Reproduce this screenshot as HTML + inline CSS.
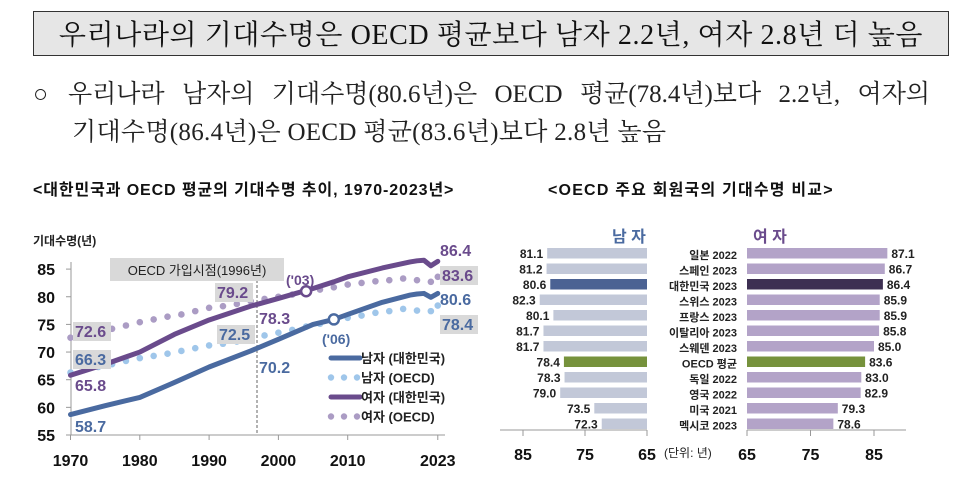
<!DOCTYPE html>
<html><head><meta charset="utf-8">
<style>
body{margin:0;width:954px;height:495px;background:#fff;overflow:hidden;font-family:"Liberation Sans","Noto Sans CJK KR",sans-serif;}
.serif{font-family:"Liberation Serif","Noto Serif CJK SC","Noto Sans CJK KR",serif;}
</style></head><body>
<div style="position:absolute;left:33px;top:11px;width:916px;height:45px;background:#e6e6e6;border:1px solid #333;box-sizing:border-box;"></div>
<div class="serif" style="position:absolute;left:33px;top:13px;width:916px;text-align:center;font-size:28px;color:#111;letter-spacing:0.6px;">우리나라의 기대수명은 OECD 평균보다 남자 2.2년, 여자 2.8년 더 높음</div>
<div class="serif" style="position:absolute;left:33px;top:74px;width:897px;font-size:25px;color:#222;text-align:justify;text-align-last:justify;white-space:nowrap;">○&nbsp; 우리나라&nbsp; 남자의&nbsp; 기대수명(80.6년)은&nbsp; OECD&nbsp; 평균(78.4년)보다&nbsp; 2.2년,&nbsp; 여자의</div>
<div class="serif" style="position:absolute;left:72px;top:112px;font-size:25px;color:#222;letter-spacing:0.3px;">기대수명(86.4년)은 OECD 평균(83.6년)보다 2.8년 높음</div>
<div style="position:absolute;left:33px;top:176px;font-size:16px;font-weight:bold;color:#111;letter-spacing:0.9px;">&lt;대한민국과 OECD 평균의 기대수명 추이, 1970-2023년&gt;</div>
<div style="position:absolute;left:548px;top:176px;font-size:16px;font-weight:bold;color:#111;letter-spacing:1.2px;">&lt;OECD 주요 회원국의 기대수명 비교&gt;</div>

<svg id="svg" width="954" height="495" style="position:absolute;left:0;top:0" font-family="Liberation Sans, Noto Sans CJK KR, sans-serif"></svg>
<script>
const years=[1970,1975,1980,1985,1990,1996,2000,2005,2008,2010,2015,2019,2020,2021,2022,2023];
const korMale=[58.7,60.3,61.8,64.5,67.3,70.2,72.3,75.0,75.9,76.8,79.0,80.3,80.5,80.6,79.9,80.6];
const korFemale=[65.8,67.8,70.0,73.2,75.8,78.3,79.7,81.5,82.7,83.6,85.2,86.3,86.5,86.6,85.6,86.4];
const oecdYears=[1970,1972,1974,1976,1978,1980,1982,1984,1986,1988,1990,1992,1994,1996,1998,2000,2002,2004,2006,2008,2010,2012,2014,2016,2018,2020,2022,2023];
const oecdMale=[66.3,66.8,67.3,67.8,68.4,68.9,69.3,69.7,70.2,70.7,71.2,71.5,71.9,72.5,73.0,73.5,74.0,74.6,75.1,75.6,76.2,76.6,77.1,77.4,77.8,77.5,77.4,78.4];
const oecdFemale=[72.6,73.1,73.6,74.2,74.8,75.4,75.9,76.4,76.8,77.4,78.0,78.3,78.7,79.2,79.6,80.0,80.4,80.9,81.3,81.7,82.2,82.5,82.8,83.0,83.3,83.0,82.7,83.6];
const yTicks=[55,60,65,70,75,80,85];
const xTicks=[1970,1980,1990,2000,2010,2023];
const maleVals=[81.1,81.2,80.6,82.3,80.1,81.7,81.7,78.4,78.3,79.0,73.5,72.3];
const femaleVals=[87.1,86.7,86.4,85.9,85.9,85.8,85.0,83.6,83.0,82.9,79.3,78.6];
const countries=["일본 2022","스페인 2023","대한민국 2023","스위스 2023","프랑스 2023","이탈리아 2023","스웨덴 2023","OECD 평균","독일 2022","영국 2022","미국 2021","멕시코 2023"];
const barTicks=[65,75,85];

const svg=document.getElementById('svg');
const NS='http://www.w3.org/2000/svg';
function mk(tag,attrs,parent){const e=document.createElementNS(NS,tag);for(const k in attrs)e.setAttribute(k,attrs[k]);(parent||svg).appendChild(e);return e;}
function tx(x,y,s,attrs){const e=mk('text',Object.assign({x:x,y:y},attrs));e.textContent=s;return e;}
const X=y=>70.5+(y-1970)*6.93;
const Y=v=>435-(v-55)*5.53;

let e=mk('line',{x1:71,y1:262,x2:71,y2:435,stroke:'#999'});

e=mk('line',{x1:71,y1:435,x2:445,y2:435,stroke:'#999'});

e=tx(33,245,'기대수명(년)',{'font-size':12,'font-weight':'bold',fill:'#222'});

yTicks.forEach(v=>{
  const t=tx(55,Y(v)+6,String(v),{'font-size':16,'font-weight':'bold','text-anchor':'end',fill:'#111'});
  
  mk('line',{x1:66,x2:71,y1:Y(v),y2:Y(v),stroke:'#999'});
});
xTicks.forEach(v=>{
  const t=tx(X(v),466,String(v),{'font-size':16,'font-weight':'bold','text-anchor':'middle',fill:'#111'});
  
  mk('line',{x1:X(v),x2:X(v),y1:435,y2:440,stroke:'#999'});
});
e=mk('line',{x1:257,x2:257,y1:270,y2:435,stroke:'#666','stroke-dasharray':'3,2'});

e=mk('rect',{x:110,y:258,width:174,height:23,fill:'#d9d9d9'});

e=tx(197,275,'OECD 가입시점(1996년)',{'font-size':13,'text-anchor':'middle',fill:'#222'});


function dots(xs,vs,color,name){
  const g=mk('g',{});
  
  xs.forEach((y,i)=>{const c=mk('circle',{cx:X(y),cy:Y(vs[i]),r:3.3,fill:color},g);
    });
}
function line(xs,vs,color,name){
  const p=mk('path',{d:xs.map((y,i)=>(i?'L':'M')+X(y)+','+Y(vs[i])).join(''),fill:'none',stroke:color,'stroke-width':5,'stroke-linejoin':'round','stroke-linecap':'round'});
  
}
dots(oecdYears,oecdFemale,'#ab9cc4','oecd-female-series');
dots(oecdYears,oecdMale,'#9fc6ea','oecd-male-series');
line(years,korFemale,'#6a4b8c','korea-female-line');
line(years,korMale,'#4a6aa0','korea-male-line');
e=mk('circle',{cx:X(2004),cy:Y(81.0),r:5,fill:'#fff',stroke:'#6a4b8c','stroke-width':2.5});

e=mk('circle',{cx:X(2008),cy:Y(75.9),r:5,fill:'#fff',stroke:'#4a6aa0','stroke-width':2.5});

tx(286,285,"('03)",{'font-size':14,'font-weight':'bold',fill:'#6a4b8c'});
tx(322,344,"('06)",{'font-size':14,'font-weight':'bold',fill:'#4a6aa0'});

function vlabel(x,y,s,color,box,name){
  if(box){mk('rect',{x:x-2,y:y-15,width:38,height:19,fill:'#d9d9d9'});}
  const t=tx(x,y,s,{'font-size':16,'font-weight':'bold',fill:color});
  
}
vlabel(75,337,'72.6','#6a4b8c',true,'label-oecd-female-1970');
vlabel(75,365,'66.3','#4a6aa0',true,'label-oecd-male-1970');
vlabel(75,391,'65.8','#6a4b8c',false,'label-korea-female-1970');
vlabel(75,432,'58.7','#4a6aa0',false,'label-korea-male-1970');
vlabel(217,298,'79.2','#6a4b8c',true,'label-oecd-female-1996');
vlabel(219,340,'72.5','#4a6aa0',true,'label-oecd-male-1996');
vlabel(259,324,'78.3','#6a4b8c',false,'label-korea-female-1996');
vlabel(259,373,'70.2','#4a6aa0',false,'label-korea-male-1996');
vlabel(440,256,'86.4','#6a4b8c',false,'label-korea-female-2023');
vlabel(442,281,'83.6','#6a4b8c',true,'label-oecd-female-2023');
vlabel(440,305,'80.6','#4a6aa0',false,'label-korea-male-2023');
vlabel(442,330,'78.4','#4a6aa0',true,'label-oecd-male-2023');

const leg=[['남자 (대한민국)','#4a6aa0',0],['남자 (OECD)','#9fc6ea',1],['여자 (대한민국)','#6a4b8c',0],['여자 (OECD)','#ab9cc4',1]];
leg.forEach((l,i)=>{
  const y=358+i*19.5;
  const g=mk('g',{});
  
  if(l[2]){[331,344,357].forEach(cx=>mk('circle',{cx:cx,cy:y,r:3.2,fill:l[1]},g));}
  else mk('line',{x1:331,x2:360,y1:y,y2:y,stroke:l[1],'stroke-width':5,'stroke-linecap':'round'},g);
  const t=mk('text',{x:361,y:y+5,'font-size':13,'font-weight':'bold',fill:'#222'},g);t.textContent=l[0];
});

const MX=v=>647-(v-65)*6.2;
const FX=v=>747+(v-65)*6.35;
const BY=i=>248+i*15.5;
tx(612,242,'남 자',{'font-size':16,'font-weight':'bold',fill:'#4a6aa0'});
tx(753,242,'여 자',{'font-size':16,'font-weight':'bold',fill:'#6a4b8c'});
maleVals.forEach((v,i)=>{
  const col=i===2?'#4b6293':(i===7?'#76923c':'#c2c8d8');
  const r=mk('rect',{x:MX(v),y:BY(i),width:647-MX(v),height:10.5,fill:col});
  
  const t=tx(MX(v)-4,BY(i)+10,v.toFixed(1),{'font-size':12,'font-weight':'bold','text-anchor':'end',fill:'#222'});
  
});
femaleVals.forEach((v,i)=>{
  const col=i===2?'#3d2f52':(i===7?'#76923c':'#b3a3c8');
  const r=mk('rect',{x:747,y:BY(i),width:FX(v)-747,height:10.5,fill:col});
  
  const t=tx(FX(v)+4,BY(i)+10,v.toFixed(1),{'font-size':12,'font-weight':'bold',fill:'#222'});
  
  const c=tx(737,BY(i)+11,countries[i],{'font-size':11,'font-weight':'bold','text-anchor':'end',fill:'#222'});
  
});
e=mk('line',{x1:500,x2:647,y1:430,y2:430,stroke:'#999'});

e=mk('line',{x1:747,x2:906,y1:430,y2:430,stroke:'#999'});

barTicks.forEach(v=>{
  mk('line',{x1:MX(v),x2:MX(v),y1:430,y2:436,stroke:'#999'});
  mk('line',{x1:FX(v),x2:FX(v),y1:430,y2:436,stroke:'#999'});
  let t=tx(MX(v),460,String(v),{'font-size':16,'font-weight':'bold','text-anchor':'middle',fill:'#111'});
  
  t=tx(FX(v),460,String(v),{'font-size':16,'font-weight':'bold','text-anchor':'middle',fill:'#111'});
  
});
e=tx(664,457,'(단위: 년)',{'font-size':12,fill:'#222'});

</script>
</body></html>
